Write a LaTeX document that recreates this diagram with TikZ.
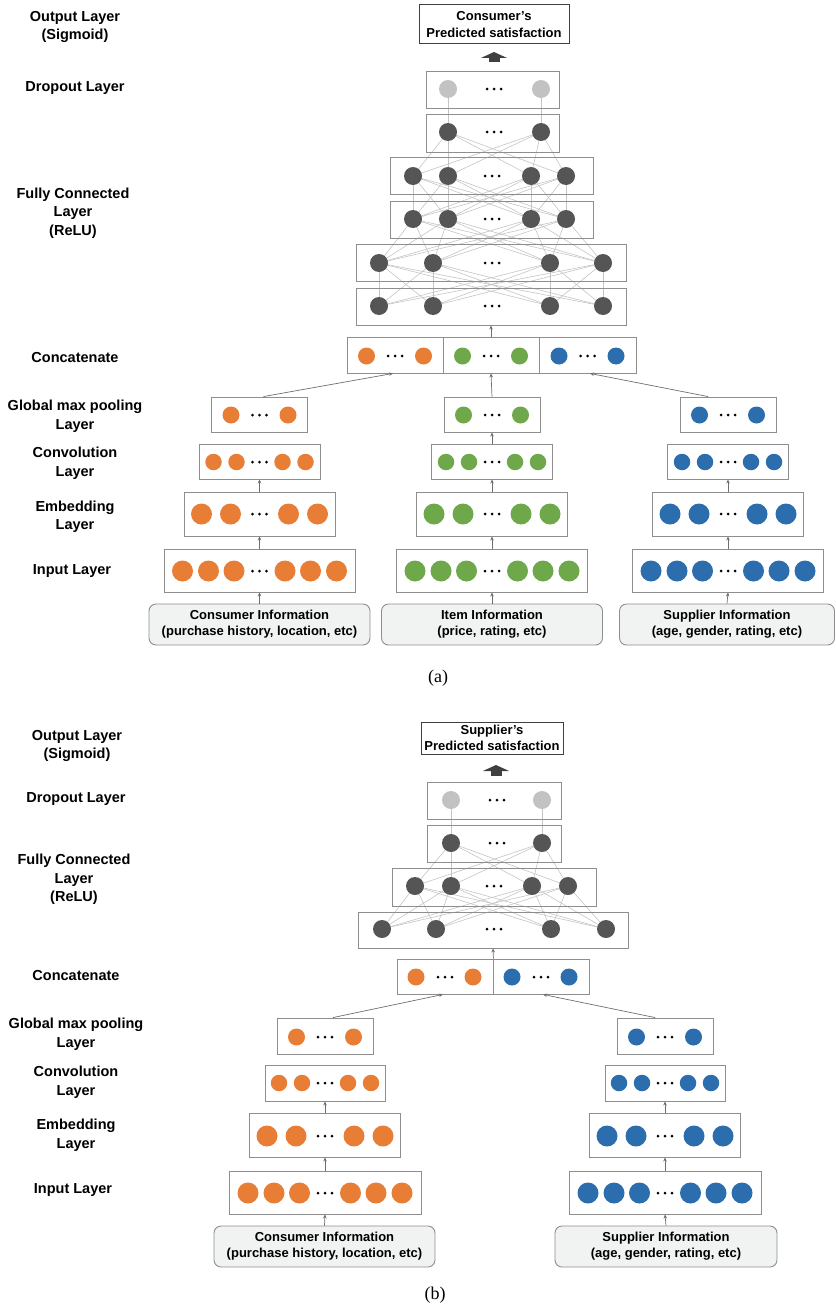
\documentclass[tikz,border=0pt]{standalone}
\usepackage{fontspec}
\setmainfont{Liberation Sans}
\newfontfamily\captionserif{Liberation Serif}
\usetikzlibrary{arrows.meta,calc,backgrounds}

\definecolor{orng}{HTML}{E87D35}
\definecolor{grn}{HTML}{6FA84A}
\definecolor{blu}{HTML}{2C6DAD}
\definecolor{dkg}{HTML}{555555}
\definecolor{ltg}{HTML}{C2C2C2}
\definecolor{boxgray}{HTML}{8E8E8E}
\definecolor{infofill}{HTML}{F1F2F2}
\definecolor{wirecol}{HTML}{C4C4C4}
\definecolor{arrowgray}{HTML}{6E6E6E}

% a row of units with the three-dot ellipsis in the middle
\newcommand{\unitrow}[6]{%
  \foreach \dx [count=\k] in {#6}
    \node[neuron=#2, minimum size=#5] (#1-\k) at (#3+\dx,#4) {};
  \foreach \ddx in {-7,0,7} \fill (#3+\ddx,#4) circle (1.5);
}
% a plain rectangular layer frame
\newcommand{\layerframe}[5]{%
  \node[layerbox, minimum width=#4, minimum height=#5] (#1) at (#2,#3) {};
}

\begin{document}
\begin{tikzpicture}[x=1pt,y=-1pt,
  layerbox/.style={draw=boxgray, line width=0.9pt, inner sep=0pt, rectangle},
  infobox/.style={draw=boxgray, fill=infofill, rounded corners=7pt, line width=0.9pt,
    inner sep=0pt, align=center, font=\fontsize{13}{16}\selectfont\bfseries},
  outbox/.style={draw=black!75, line width=1pt, inner sep=0pt, align=center,
    font=\fontsize{13}{17}\selectfont\bfseries},
  layername/.style={align=center, inner sep=0pt, font=\fontsize{14.5}{18.5}\selectfont\bfseries},
  neuron/.style={circle, inner sep=0pt, draw=none, fill=#1},
  fcwire/.style={draw=wirecol, line width=0.6pt},
  feedarrow/.style={draw=arrowgray, line width=0.7pt, -{Stealth[length=4pt,width=3.5pt]}},
  thickarrow/.style={draw=black!75, line width=11pt, -{Triangle[length=6pt,width=26pt]}},
  figcaption/.style={inner sep=0pt, font=\captionserif\fontsize{18}{20}\selectfont}]

\useasboundingbox (0,0) rectangle (835,1306);

% ================= (a) consumer model =================
% layer names
\node[layername] (a-n-out) at (75,27) {Output Layer\\(Sigmoid)};
\node[layername] (a-n-drop) at (75,88) {Dropout Layer};
\node[layername] (a-n-fc) at (73,213) {Fully Connected\\Layer\\(ReLU)};
\node[layername] (a-n-cat) at (75,358) {Concatenate};
\node[layername] (a-n-pool) at (75,416) {Global max pooling\\Layer};
\node[layername] (a-n-conv) at (75,463) {Convolution\\Layer};
\node[layername] (a-n-emb) at (75,516.5) {Embedding\\Layer};
\node[layername] (a-n-in) at (72,571) {Input Layer};

% output
\node[outbox, minimum width=150, minimum height=39] (a-out) at (494,24.5)
  {Consumer’s\\Predicted satisfaction};
\coordinate (a-up-s) at (494,62.5);
\coordinate (a-up-e) at (494,52);
\draw[thickarrow] (a-up-s) -- (a-up-e);

% dropout and fully connected stack
\layerframe{a-drop}{492.5}{89.5}{133}{37}
\unitrow{a-d}{ltg}{494}{89}{18}{-46,47}
\layerframe{a-fc1}{492.5}{133}{133}{38}
\unitrow{a-f1}{dkg}{494}{132}{18}{-46,47}
\layerframe{a-fc2}{491.5}{175.5}{203}{37}
\unitrow{a-f2}{dkg}{492}{176}{18}{-79,-44,39,74}
\layerframe{a-fc3}{491.5}{219.5}{203}{37}
\unitrow{a-f3}{dkg}{492}{219}{18}{-79,-44,39,74}
\layerframe{a-fc4}{491}{262.5}{270}{37}
\unitrow{a-f4}{dkg}{492}{263}{18}{-113,-59,58,111}
\layerframe{a-fc5}{491}{306.5}{270}{37}
\unitrow{a-f5}{dkg}{492}{306}{18}{-113,-59,58,111}

\begin{pgfonlayer}{background}
  \foreach \i in {1,2} \draw[fcwire] (a-d-\i.center) -- (a-f1-\i.center);
  \foreach \i in {1,2} \foreach \j in {1,...,4}
    \draw[fcwire] (a-f1-\i.center) -- (a-f2-\j.center);
  \foreach \i in {1,...,4} \foreach \j in {1,...,4} {
    \draw[fcwire] (a-f2-\i.center) -- (a-f3-\j.center);
    \draw[fcwire] (a-f3-\i.center) -- (a-f4-\j.center);
    \draw[fcwire] (a-f4-\i.center) -- (a-f5-\j.center);
  }
\end{pgfonlayer}

% concatenation
\layerframe{a-cat-o}{395}{355}{96}{36}
\layerframe{a-cat-g}{491}{355}{96}{36}
\layerframe{a-cat-b}{587.5}{355}{97}{36}
\unitrow{a-co}{orng}{395}{356}{17}{-28.5,28.5}
\unitrow{a-cg}{grn}{491}{356}{17}{-28.5,28.5}
\unitrow{a-cb}{blu}{587.5}{356}{17}{-28.5,28.5}

% three input branches
\foreach \col/\cx/\clr in {o/259.5/orng, g/492/grn, b/728/blu} {
  \layerframe{a-pool-\col}{\cx}{414.5}{96}{35}
  \unitrow{a-p\col}{\clr}{\cx}{415}{17}{-28.5,28.5}
  \layerframe{a-conv-\col}{\cx}{461.5}{121}{35}
  \unitrow{a-v\col}{\clr}{\cx}{462}{16.5}{-46,-23,23,46}
  \layerframe{a-emb-\col}{\cx}{514}{151}{44}
  \unitrow{a-e\col}{\clr}{\cx}{514}{21}{-58,-29,29,58}
  \layerframe{a-in-\col}{\cx}{570.5}{191}{43}
  \unitrow{a-i\col}{\clr}{\cx}{571}{21}{-77,-51,-25.5,25.5,51,77}
}
\node[infobox, minimum width=221, minimum height=41] (a-info-o) at (259.5,624.5)
  {Consumer Information\\(purchase history, location, etc)};
\node[infobox, minimum width=221, minimum height=41] (a-info-g) at (492,624.5)
  {Item Information\\(price, rating, etc)};
\node[infobox, minimum width=215, minimum height=41] (a-info-b) at (727,624.5)
  {Supplier Information\\(age, gender, rating, etc)};

\foreach \col in {o,g,b} {
  \draw[feedarrow] (a-info-\col.north) -- (a-in-\col.south);
  \draw[feedarrow] (a-in-\col.north) -- (a-emb-\col.south);
  \draw[feedarrow] (a-emb-\col.north) -- (a-conv-\col.south);
}
\draw[feedarrow] (a-conv-g.north) -- (a-pool-g.south);
\draw[feedarrow] ($(a-pool-o.north)+(4,0)$) -- ($(a-cat-o.south)+(-2,0)$);
\draw[feedarrow] (a-pool-g.north) -- (a-cat-g.south);
\draw[feedarrow] ($(a-pool-b.north)+(-20,0)$) -- ($(a-cat-b.south)+(2.5,0)$);
\draw[feedarrow] (a-cat-g.north) -- (a-fc5.south);

\node[figcaption] (a-cap) at (438,678) {(a)};

% ================= (b) supplier model =================
\node[layername] (b-n-out) at (77,746) {Output Layer\\(Sigmoid)};
\node[layername] (b-n-drop) at (76,799) {Dropout Layer};
\node[layername] (b-n-fc) at (74,879.5) {Fully Connected\\Layer\\(ReLU)};
\node[layername] (b-n-cat) at (76,975) {Concatenate};
\node[layername] (b-n-pool) at (76,1034) {Global max pooling\\Layer};
\node[layername] (b-n-conv) at (76,1082) {Convolution\\Layer};
\node[layername] (b-n-emb) at (76,1135) {Embedding\\Layer};
\node[layername] (b-n-in) at (73,1190) {Input Layer};

\node[outbox, minimum width=142, minimum height=32,
  font=\fontsize{13}{15.5}\selectfont\bfseries] (b-out) at (492,738)
  {Supplier’s\\Predicted satisfaction};
\coordinate (b-up-s) at (496,775.5);
\coordinate (b-up-e) at (496,765);
\draw[thickarrow] (b-up-s) -- (b-up-e);

\layerframe{b-drop}{494}{800.5}{134}{37}
\unitrow{b-d}{ltg}{497}{800}{18}{-46,45}
\layerframe{b-fc1}{494}{843.5}{134}{37}
\unitrow{b-f1}{dkg}{497}{843}{18}{-46,45}
\layerframe{b-fc2}{494}{887}{204}{38}
\unitrow{b-f2}{dkg}{494}{886}{18}{-79,-43,38,74}
\layerframe{b-fc3}{493}{930}{270}{36}
\unitrow{b-f3}{dkg}{494}{929}{18}{-112,-58,57,112}

\begin{pgfonlayer}{background}
  \foreach \i in {1,2} \draw[fcwire] (b-d-\i.center) -- (b-f1-\i.center);
  \foreach \i in {1,2} \foreach \j in {1,...,4}
    \draw[fcwire] (b-f1-\i.center) -- (b-f2-\j.center);
  \foreach \i in {1,...,4} \foreach \j in {1,...,4}
    \draw[fcwire] (b-f2-\i.center) -- (b-f3-\j.center);
\end{pgfonlayer}

\layerframe{b-cat-o}{445}{976.5}{96}{35}
\layerframe{b-cat-b}{541}{976.5}{96}{35}
\unitrow{b-co}{orng}{445}{977}{17}{-29,28}
\unitrow{b-cb}{blu}{541}{977}{17}{-29,28}

\foreach \col/\cx/\clr in {o/325/orng, b/665/blu} {
  \layerframe{b-pool-\col}{\cx}{1036}{96}{36}
  \unitrow{b-p\col}{\clr}{\cx}{1037}{17}{-28.5,28.5}
  \layerframe{b-conv-\col}{\cx}{1083}{120}{36}
  \unitrow{b-v\col}{\clr}{\cx}{1083}{16.5}{-46,-23,23,46}
  \layerframe{b-emb-\col}{\cx}{1135}{151}{44}
  \unitrow{b-e\col}{\clr}{\cx}{1136}{21}{-58,-29,29,58}
  \layerframe{b-in-\col}{\cx}{1192.5}{192}{43}
  \unitrow{b-i\col}{\clr}{\cx}{1193}{21}{-77,-51,-25.5,25.5,51,77}
}
\node[infobox, minimum width=221, minimum height=41] (b-info-o) at (324.5,1246.5)
  {Consumer Information\\(purchase history, location, etc)};
\node[infobox, minimum width=222, minimum height=41] (b-info-b) at (666,1246.5)
  {Supplier Information\\(age, gender, rating, etc)};

\foreach \col in {o,b} {
  \draw[feedarrow] (b-info-\col.north) -- (b-in-\col.south);
  \draw[feedarrow] (b-in-\col.north) -- (b-emb-\col.south);
  \draw[feedarrow] (b-emb-\col.north) -- (b-conv-\col.south);
}
\draw[feedarrow] ($(b-pool-o.north)+(8,0)$) -- ($(b-cat-o.south)+(-2,0)$);
\draw[feedarrow] ($(b-pool-b.north)+(-10,0)$) -- ($(b-cat-b.south)+(2,0)$);
\draw[feedarrow] (b-cat-o.north east) -- (b-fc3.south);

\node[figcaption] (b-cap) at (435,1295) {(b)};

\end{tikzpicture}
\end{document}
